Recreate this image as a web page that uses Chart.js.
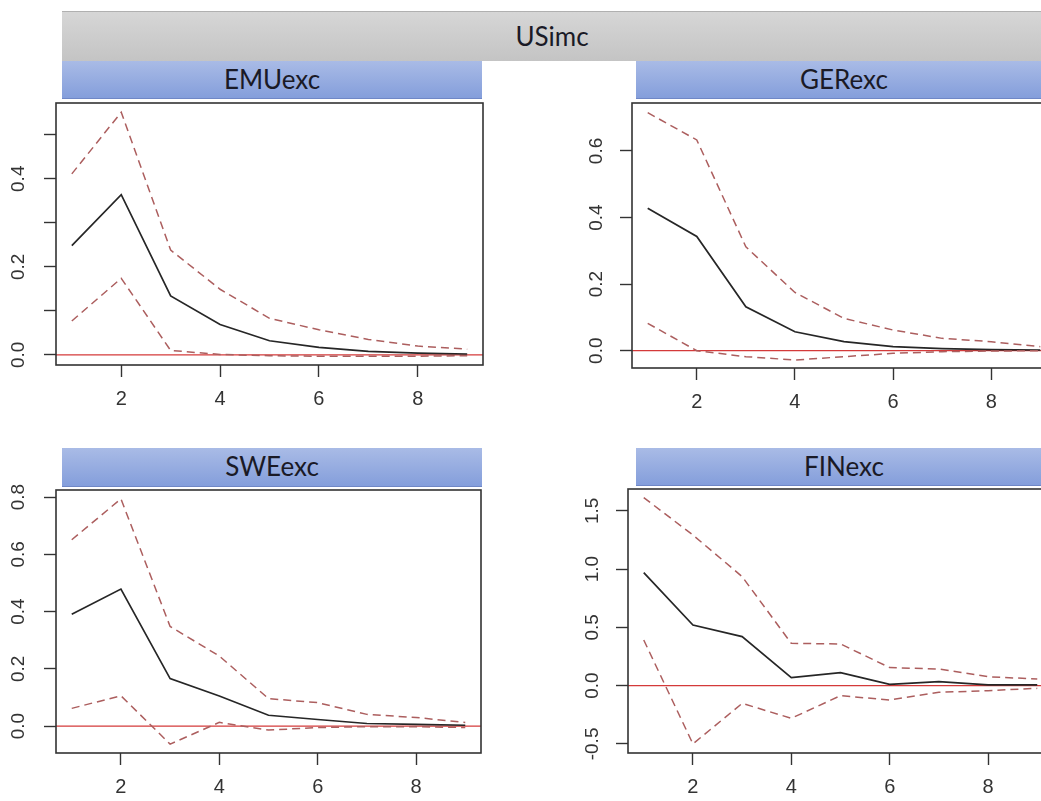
<!DOCTYPE html>
<html>
<head>
<meta charset="utf-8">
<script src="https://cdn.jsdelivr.net/npm/chart.js@4.4.1/dist/chart.umd.min.js"></script>
<style>
  html, body { margin: 0; padding: 0; background: #fff; }
  body { width: 1041px; height: 801px; overflow: hidden; position: relative; }
  .strip { position: absolute; box-sizing: border-box; text-align: center;
           font-family: Lato, "Open Sans", sans-serif; font-size: 26px; color: #1a1a26; }
  .outer { left: 62px; top: 11px; width: 980px; height: 50px; line-height: 48px;
           background: linear-gradient(#d6d6d6, #c4c4c4); border-top: 1px solid #b0b0b0; }
  .inner { height: 38px; line-height: 37px;
           background: linear-gradient(#a9bbe6, #849edb); border-bottom: 1px solid #6f87c6; }
  canvas { position: absolute; }
</style>
</head>
<body>
<div class="strip outer">USimc</div>
<div class="strip inner" style="left:62px;top:61px;width:420px;">EMUexc</div>
<div class="strip inner" style="left:636px;top:61px;width:416px;">GERexc</div>
<div class="strip inner" style="left:62px;top:448px;width:420px;height:39px;">SWEexc</div>
<div class="strip inner" style="left:636px;top:448px;width:416px;">FINexc</div>

<canvas id="emu" width="486" height="326" style="left:0px;top:89px;"></canvas>
<canvas id="ger" width="483" height="329" style="left:576px;top:89px;"></canvas>
<canvas id="swe" width="484" height="327" style="left:0px;top:476px;"></canvas>
<canvas id="fin" width="484" height="328" style="left:572px;top:475px;"></canvas>

<script>
// horizon and x ticks
const horizon = [1, 2, 3, 4, 5, 6, 7, 8, 9];
const xTicks = [2, 4, 6, 8];

// EMUexc
const emuIrf   = [0.248, 0.364, 0.134, 0.069, 0.032, 0.017, 0.008, 0.004, 0.002];
const emuUpper = [0.411, 0.551, 0.238, 0.149, 0.083, 0.057, 0.035, 0.020, 0.013];
const emuLower = [0.077, 0.174, 0.010, 0.001, -0.002, -0.003, -0.003, -0.003, -0.002];
const emuYTicks = [0, 0.1, 0.2, 0.3, 0.4, 0.5];
const emuYLabels = [0, 0.2, 0.4];

// GERexc
const gerIrf   = [0.428, 0.343, 0.132, 0.057, 0.027, 0.012, 0.006, 0.003, 0.002];
const gerUpper = [0.715, 0.633, 0.312, 0.175, 0.097, 0.062, 0.037, 0.027, 0.012];
const gerLower = [0.082, 0.000, -0.018, -0.028, -0.018, -0.008, -0.003, -0.001, 0.000];
const gerYTicks = [0, 0.2, 0.4, 0.6];
const gerYLabels = [0, 0.2, 0.4, 0.6];

// SWEexc
const sweIrf   = [0.391, 0.479, 0.166, 0.105, 0.038, 0.023, 0.009, 0.006, 0.003];
const sweUpper = [0.651, 0.794, 0.348, 0.245, 0.096, 0.082, 0.041, 0.030, 0.013];
const sweLower = [0.062, 0.106, -0.063, 0.013, -0.014, -0.005, -0.002, -0.002, -0.005];
const sweYTicks = [0, 0.2, 0.4, 0.6, 0.8];
const sweYLabels = [0, 0.2, 0.4, 0.6, 0.8];

// FINexc
const finIrf   = [0.970, 0.521, 0.421, 0.069, 0.112, 0.011, 0.034, 0.006, 0.006];
const finUpper = [1.614, 1.293, 0.936, 0.363, 0.358, 0.155, 0.143, 0.077, 0.057];
const finLower = [0.392, -0.500, -0.152, -0.280, -0.086, -0.123, -0.057, -0.043, -0.023];
const finYTicks = [-0.5, 0, 0.5, 1, 1.5];
const finYLabels = [-0.5, 0, 0.5, 1, 1.5];

// zero line, box and rotated y labels (R style)
const panelDecor = {
  id: 'panelDecor',
  beforeDatasetsDraw(chart) {
    const { ctx, chartArea: a, scales: { y } } = chart;
    const y0 = y.getPixelForValue(0);
    ctx.save();
    ctx.strokeStyle = '#d43a3a';
    ctx.lineWidth = 1.3;
    ctx.beginPath();
    ctx.moveTo(a.left, y0);
    ctx.lineTo(a.right, y0);
    ctx.stroke();
    ctx.restore();
  },
  afterDraw(chart, args, opts) {
    const { ctx, chartArea: a, scales: { y } } = chart;
    ctx.save();
    ctx.strokeStyle = '#333';
    ctx.lineWidth = 1.6;
    ctx.strokeRect(a.left, a.top, a.right - a.left, a.bottom - a.top);
    ctx.fillStyle = '#333';
    ctx.font = '19px "Liberation Sans", Arial, sans-serif';
    ctx.textAlign = 'center';
    ctx.textBaseline = 'middle';
    (opts.labels || []).forEach(v => {
      ctx.save();
      ctx.translate(a.left - opts.offset, y.getPixelForValue(v));
      ctx.rotate(-Math.PI / 2);
      ctx.fillText(v.toFixed(1), 0, 0);
      ctx.restore();
    });
    ctx.restore();
  }
};

const toXY = arr => horizon.map((h, i) => ({ x: h, y: arr[i] }));

function makePanel(id, irf, upper, lower, yTicks, yLabels, yMin, yMax, labelOffset) {
  const band = { borderColor: '#ac5e5e', borderWidth: 1.5, borderDash: [8, 5], pointRadius: 0, tension: 0, fill: false };
  new Chart(document.getElementById(id), {
    type: 'line',
    data: {
      datasets: [
        { ...band, data: toXY(upper) },
        { ...band, data: toXY(lower) },
        { data: toXY(irf), borderColor: '#262626', borderWidth: 1.7, pointRadius: 0, tension: 0, fill: false }
      ]
    },
    options: {
      responsive: false,
      animation: false,
      layout: { padding: { top: 14, right: 3, left: 0, bottom: 0 } },
      plugins: {
        legend: { display: false },
        tooltip: { enabled: false },
        panelDecor: { labels: yLabels, offset: labelOffset }
      },
      scales: {
        x: {
          type: 'linear', min: 0.68, max: 9.32, bounds: 'data',
          afterBuildTicks: s => { s.ticks = xTicks.map(v => ({ value: v })); },
          afterFit: s => { s.height = 50; },
          grid: { drawOnChartArea: false, drawTicks: true, tickLength: 12, tickColor: '#333', tickWidth: 1.4 },
          border: { display: false },
          ticks: { font: { family: '"Liberation Sans", Arial, sans-serif', size: 20 }, color: '#333', padding: 10, maxRotation: 0, autoSkip: false }
        },
        y: {
          type: 'linear', min: yMin, max: yMax, bounds: 'data',
          afterBuildTicks: s => { s.ticks = yTicks.map(v => ({ value: v })); },
          afterFit: s => { s.width = 56; },
          grid: { drawOnChartArea: false, drawTicks: true, tickLength: 12, tickColor: '#333', tickWidth: 1.4 },
          border: { display: false },
          ticks: { display: false }
        }
      }
    },
    plugins: [panelDecor]
  });
}

makePanel('emu', emuIrf, emuUpper, emuLower, emuYTicks, emuYLabels, -0.023, 0.572, 37);
makePanel('ger', gerIrf, gerUpper, gerLower, gerYTicks, gerYLabels, -0.052, 0.744, 35);
makePanel('swe', sweIrf, sweUpper, sweLower, sweYTicks, sweYLabels, -0.094, 0.825, 37);
makePanel('fin', finIrf, finUpper, finLower, finYTicks, finYLabels, -0.578, 1.688, 35);
</script>
</body>
</html>
